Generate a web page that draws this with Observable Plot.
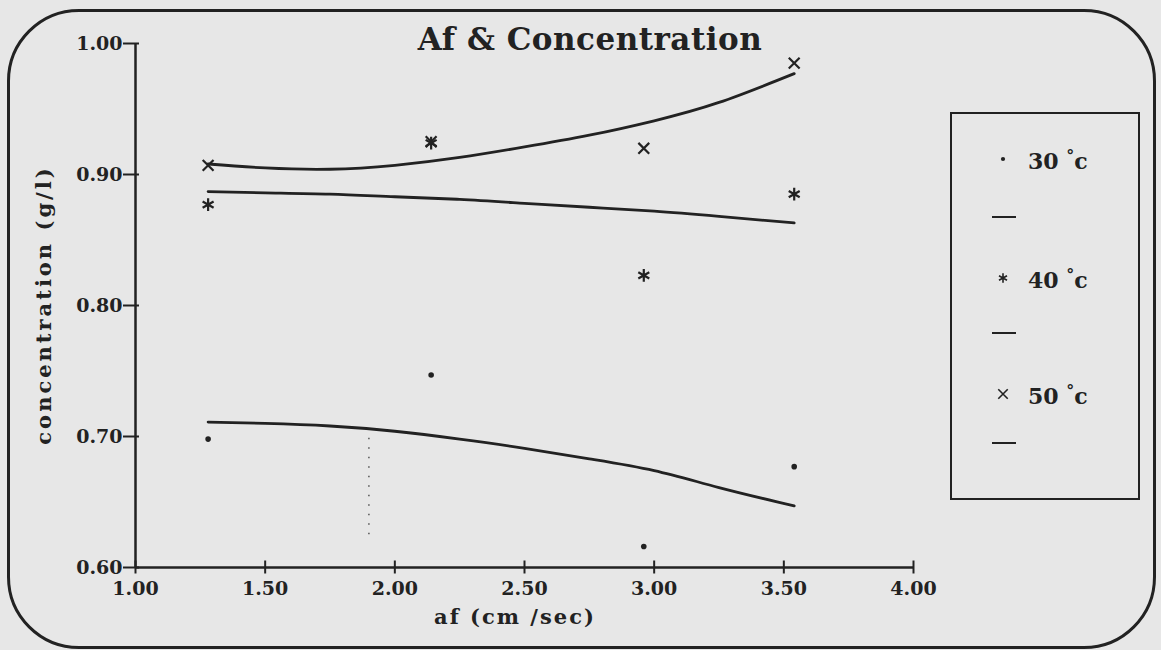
<!DOCTYPE html>
<html>
<head>
<meta charset="utf-8">
<script src="https://cdn.jsdelivr.net/npm/d3@7"></script>
<script src="https://cdn.jsdelivr.net/npm/@observablehq/plot@0.6"></script>
<style>
  html, body { margin: 0; padding: 0; background: #e7e7e7; }
  #wrap { position: relative; width: 1161px; height: 650px; background: #e7e7e7; overflow: hidden;
          font-family: "DejaVu Serif", serif; font-weight: bold; color: #222; }
  #wrap > svg { position: absolute; left: 0; top: 0; background: transparent; }
  .frame { position: absolute; left: 7px; top: 9px; width: 1149px; height: 640px; box-sizing: border-box;
           border: 3px solid #222; border-radius: 72px; }
  .title { position: absolute; left: 390px; width: 400px; top: 21px; text-align: center; font-size: 31px; letter-spacing: 0.5px; }
  .xlabel { position: absolute; left: 360px; width: 310px; top: 604px; text-align: center; font-size: 21px; letter-spacing: 2px; }
  .ylabel { position: absolute; left: 43px; top: 305px; transform: translate(-50%, -50%) rotate(-90deg);
            white-space: nowrap; font-size: 21px; letter-spacing: 3px; }
  .legend { position: absolute; left: 950px; top: 112px; width: 190px; height: 388px; box-sizing: border-box;
            border: 2.5px solid #222; }
  .legend .row { position: absolute; left: 0; width: 100%; height: 30px; }
  .legend .sym { position: absolute; left: 38px; top: 0; }
  .legend .txt { position: absolute; left: 76px; top: 2px; font-size: 22px; }
  .legend .dash { position: absolute; left: 40px; width: 24px; border-top: 2.5px solid #222; }
</style>
</head>
<body>
<div id="wrap">
  <div class="frame"></div>
  <div class="title">Af &amp; Concentration</div>
  <div class="xlabel">af (cm /sec)</div>
  <div class="ylabel">concentration (g/l)</div>
  <div class="legend" id="legend"></div>
</div>
<script>
// Measured points (af in cm/sec, concentration in g/l)
const af = [1.28, 2.14, 2.96, 3.54];
const conc30 = [0.698, 0.747, 0.616, 0.677];
const conc40 = [0.877, 0.924, 0.823, 0.885];
const conc50 = [0.907, 0.925, 0.920, 0.985];

// Fitted curves
const fitAf = [1.28, 1.5, 1.75, 2.0, 2.25, 2.5, 2.75, 3.0, 3.25, 3.54];
const fit30 = [0.711, 0.710, 0.708, 0.704, 0.698, 0.691, 0.683, 0.674, 0.661, 0.647];
const fit40 = [0.887, 0.886, 0.885, 0.883, 0.881, 0.878, 0.875, 0.872, 0.868, 0.863];
const fit50 = [0.908, 0.905, 0.904, 0.907, 0.913, 0.921, 0.930, 0.941, 0.955, 0.977];

// Stray dotted guide visible in the scan
const guideAf = [1.9];
const guideLow = [0.625];
const guideHigh = [0.703];

const series = ["30", "40", "50"];
const symbols = ["circle", "asterisk", "times"];
const xTicks = [1.0, 1.5, 2.0, 2.5, 3.0, 3.5, 4.0];
const yTicks = [0.6, 0.7, 0.8, 0.9, 1.0];
const legendLabels = ["30", "40", "50"];

const pts = [];
[conc30, conc40, conc50].forEach((arr, k) => arr.forEach((v, i) => pts.push({s: series[k], x: af[i], y: v})));
const fits = [];
[fit30, fit40, fit50].forEach((arr, k) => arr.forEach((v, i) => fits.push({s: series[k], x: fitAf[i], y: v})));
const guide = guideAf.map((x, i) => ({x, y1: guideLow[i], y2: guideHigh[i]}));

const ink = "#222";
const font = "DejaVu Serif";

const chart = Plot.plot({
  width: 1161,
  height: 650,
  marginLeft: 135,
  marginRight: 248,
  marginTop: 43,
  marginBottom: 83,
  style: {background: "transparent", fontFamily: font, fontWeight: "bold", color: ink},
  x: {domain: [1, 4], axis: null},
  y: {domain: [0.6, 1.0], axis: null},
  symbol: {domain: series, range: symbols},
  marks: [
    Plot.ruleX([1], {y1: 0.6, y2: 1.0, stroke: ink, strokeWidth: 2.5}),
    Plot.ruleY([0.6], {x1: 1, x2: 4, stroke: ink, strokeWidth: 2.5}),
    Plot.axisX({ticks: xTicks, tickSize: 13, dy: -6.5, tickFormat: () => "", label: null, stroke: ink, strokeWidth: 2}),
    Plot.axisX({ticks: xTicks, tickSize: 0, tickPadding: 14, tickFormat: d3.format(".2f"), label: null,
                fontSize: 19, fontWeight: "bold", fill: ink}),
    Plot.axisY({ticks: yTicks, tickSize: 16, dx: 4, tickFormat: () => "", label: null, stroke: ink, strokeWidth: 2}),
    Plot.axisY({ticks: yTicks, tickSize: 0, tickPadding: 13, tickFormat: d3.format(".2f"), label: null,
                fontSize: 19, fontWeight: "bold", fill: ink}),
    Plot.ruleX(guide, {x: "x", y1: "y1", y2: "y2", stroke: "#555", strokeWidth: 1.5, strokeDasharray: "1.5,8"}),
    Plot.line(fits, {x: "x", y: "y", z: "s", curve: "natural", stroke: ink, strokeWidth: 2.8}),
    Plot.dot(pts.filter(d => d.s === "30"), {x: "x", y: "y", r: 2.8, fill: ink, stroke: "none"}),
    Plot.dot(pts.filter(d => d.s === "40"), {x: "x", y: "y", symbol: "s", r: 6, stroke: ink, strokeWidth: 2.2, fill: "none"}),
    Plot.dot(pts.filter(d => d.s === "50"), {x: "x", y: "y", symbol: "s", r: 5, stroke: ink, strokeWidth: 2.2, fill: "none"})
  ]
});
document.getElementById("wrap").appendChild(chart);

// Legend
const legend = document.getElementById("legend");
const rowTops = [30, 149, 265];
const dashTops = [102, 218, 328];
legendLabels.forEach((lab, i) => {
  const row = document.createElement("div");
  row.className = "row";
  row.style.top = rowTops[i] + "px";
  const sym = d3.create("svg").attr("class", "sym").attr("width", 26).attr("height", 30);
  const path = d3.symbol(i === 0 ? d3.symbolCircle : (i === 1 ? d3.symbolAsterisk : d3.symbolTimes), i === 0 ? 14 : 60)();
  sym.append("path").attr("d", path).attr("transform", "translate(13,15)")
     .attr("fill", i === 0 ? ink : "none").attr("stroke", i === 0 ? "none" : ink).attr("stroke-width", 1.6);
  row.appendChild(sym.node());
  const txt = document.createElement("div");
  txt.className = "txt";
  txt.innerHTML = lab + " <sup style='font-size:16px'>&deg;</sup>c";
  row.appendChild(txt);
  legend.appendChild(row);
  const dash = document.createElement("div");
  dash.className = "dash";
  dash.style.top = dashTops[i] + "px";
  legend.appendChild(dash);
});
</script>
</body>
</html>
